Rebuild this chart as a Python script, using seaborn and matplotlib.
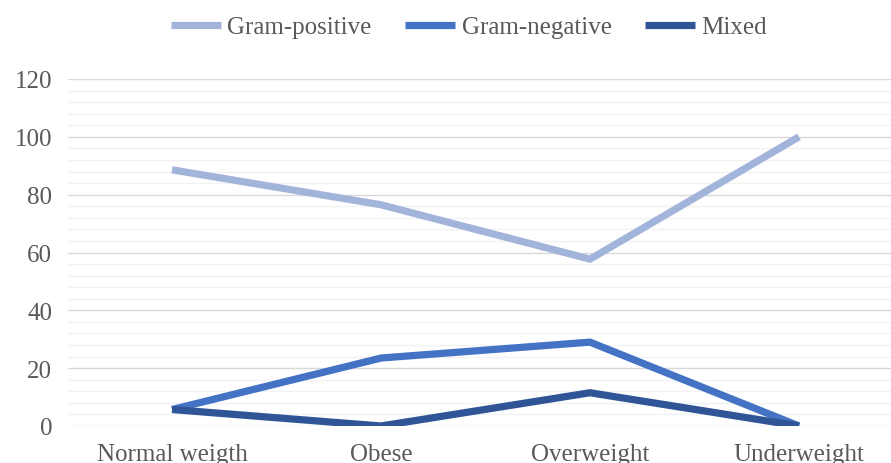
import matplotlib
matplotlib.use("Agg")
import matplotlib.pyplot as plt
from matplotlib.ticker import MultipleLocator
from matplotlib.lines import Line2D
import pandas as pd
import seaborn as sns

categories = ["Normal weigth", "Obese", "Overweight", "Underweight"]
gram_positive = [88.6, 76.5, 57.7, 100.0]
gram_negative = [5.7, 23.5, 29.0, 0.0]
mixed = [5.7, 0.0, 11.5, 0.0]
series_names = ["Gram-positive", "Gram-negative", "Mixed"]
colors = ["#A3B4DB", "#4472C4", "#2F5597"]

df = pd.DataFrame({
    "category": categories * 3,
    "value": gram_positive + gram_negative + mixed,
    "series": [s for s in series_names for _ in categories],
})

sns.set_theme(style="white")
plt.rcParams["font.family"] = ["Liberation Serif", "DejaVu Serif"]
text_color = "#595959"
font_size = 18

fig = plt.figure(figsize=(8.91, 4.64), dpi=100)
ax = fig.add_axes([67.5 / 891, 1 - 427 / 464, 836 / 891, 347 / 464])

sns.lineplot(data=df, x="category", y="value", hue="series",
             palette=dict(zip(series_names, colors)), linewidth=5.2,
             sort=False, ax=ax, legend=False)
for line in ax.get_lines():
    line.set_solid_capstyle("butt")
    line.set_solid_joinstyle("miter")

ax.set_xlim(-0.5, 3.5)
ax.set_ylim(0, 120)
ax.yaxis.set_major_locator(MultipleLocator(20))
ax.yaxis.set_minor_locator(MultipleLocator(4))
ax.grid(which="major", axis="y", color="#D9D9D9", linewidth=1.0)
ax.grid(which="minor", axis="y", color="#F2F2F2", linewidth=1.0)
ax.grid(which="major", axis="x", visible=False)
ax.set_axisbelow(True)
for s in ax.spines.values():
    s.set_visible(False)
ax.tick_params(axis="y", which="both", length=0, pad=11, labelsize=font_size, labelcolor=text_color)
ax.tick_params(axis="x", length=0, pad=12, labelsize=font_size, labelcolor=text_color)
ax.set_xlabel("")
ax.set_ylabel("")

handles = [Line2D([], [], color=c, linewidth=5.2, solid_capstyle="butt") for c in colors]
fig.legend(handles, series_names, loc="center", bbox_to_anchor=(469 / 891, 1 - 28 / 464),
           ncol=3, frameon=False, fontsize=font_size, labelcolor=text_color,
           handlelength=2.0, handletextpad=0.25, columnspacing=1.35)

fig.savefig("out.png", dpi=100)
